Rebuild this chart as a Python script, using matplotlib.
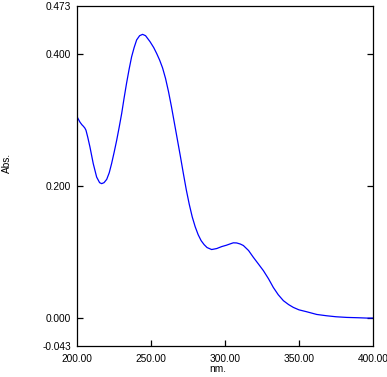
import matplotlib
matplotlib.use("Agg")
import matplotlib.pyplot as plt
import numpy as np

# spectrum (wavelength nm, absorbance)
wavelength = [200.0, 201.0, 202.2, 203.5, 204.5, 205.5, 206.3, 207.5, 209.0, 211.2,
              213.5, 215.5, 216.9, 218.5, 220.3, 222.0, 223.6, 225.3, 227.0, 228.7,
              230.4, 232.0, 233.7, 235.4, 237.1, 238.8, 240.5, 242.5, 244.5, 246.5,
              249.5, 252.0, 254.0, 256.0, 258.0, 260.0, 262.0, 264.0, 266.0, 268.0,
              270.0, 272.0, 274.0, 276.0, 278.0, 280.0, 282.0, 284.0, 286.0, 288.0,
              291.1, 294.5, 297.9, 301.0, 303.5, 305.7, 308.0, 310.5, 312.5, 316.0,
              319.2, 322.5, 326.0, 329.5, 332.7, 336.0, 339.5, 343.0, 346.2, 350.0,
              355.2, 362.0, 368.7, 375.0, 382.3, 390.0, 395.8, 400.0]
absorb = [0.3064, 0.302, 0.297, 0.293, 0.2907, 0.288, 0.2846, 0.274, 0.259, 0.234,
          0.2135, 0.205, 0.2035, 0.205, 0.210, 0.220, 0.234, 0.251, 0.269, 0.289,
          0.310, 0.333, 0.356, 0.377, 0.396, 0.410, 0.4216, 0.428, 0.430, 0.428,
          0.419, 0.410, 0.401, 0.391, 0.379, 0.363, 0.343, 0.320, 0.295, 0.270,
          0.245, 0.219, 0.194, 0.172, 0.153, 0.138, 0.126, 0.117, 0.111, 0.1065,
          0.1035, 0.105, 0.108, 0.110, 0.112, 0.1137, 0.1135, 0.1118, 0.1096, 0.102,
          0.0918, 0.082, 0.0715, 0.059, 0.046, 0.035, 0.0259, 0.020, 0.0157, 0.012,
          0.0091, 0.005, 0.003, 0.0015, 0.0005, 0.0, -0.0005, -0.0005]

xticks = [200, 250, 300, 350, 400]
xtick_labels = ["200.00", "250.00", "300.00", "350.00", "400.00"]
yticks = [-0.043, 0.0, 0.2, 0.4, 0.473]
ytick_labels = ["-0.043", "0.000", "0.200", "0.400", "0.473"]

plt.rcParams["font.family"] = ["Liberation Sans", "DejaVu Sans"]

fig = plt.figure(figsize=(3.87, 3.77), dpi=100)
ax = fig.add_axes([0.198, 0.082, 0.766, 0.902])

ax.plot(wavelength, absorb, color="#0000ff", linewidth=0.9)

ax.set_xlim(200, 400)
ax.set_ylim(-0.043, 0.473)
ax.set_xticks(xticks)
ax.set_xticklabels(xtick_labels)
ax.set_yticks(yticks)
ax.set_yticklabels(ytick_labels)

for s in ax.spines.values():
    s.set_linewidth(0.9)
    s.set_color("black")

ax.tick_params(axis="both", direction="in", length=4, width=0.9, labelsize=7.3)
ax.tick_params(axis="x", pad=6)
ax.tick_params(axis="y", pad=4, right=True)

# no tick marks at the axis corners, only the labels
for t in ax.xaxis.get_major_ticks():
    if t.get_loc() in (200, 400):
        t.tick1line.set_visible(False)
        t.tick2line.set_visible(False)
for t in ax.yaxis.get_major_ticks():
    if t.get_loc() in (-0.043, 0.473):
        t.tick1line.set_visible(False)
        t.tick2line.set_visible(False)

fig.text(7 / 387, 1 - 163 / 377, "Abs.", rotation=90, fontsize=7.3,
         ha="center", va="center")
fig.text(218 / 387, 1 - 369 / 377, "nm.", fontsize=7.3, ha="center", va="center")

fig.savefig("out.png", dpi=100)
